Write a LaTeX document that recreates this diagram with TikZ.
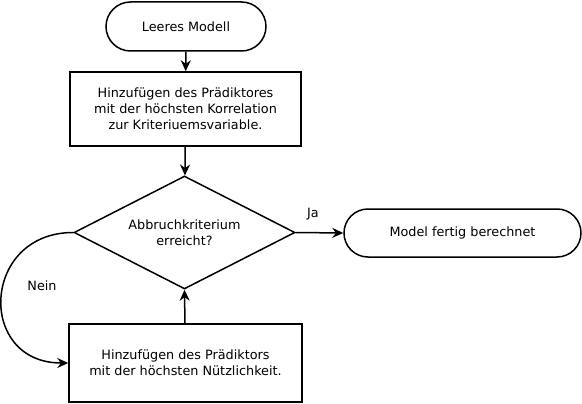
\documentclass[tikz,border=0pt]{standalone}
\usepackage{fontspec}
\setmainfont{DejaVu Sans}
\usetikzlibrary{shapes.geometric,shapes.misc,arrows.meta}
\begin{document}
\begin{tikzpicture}[x=1pt,y=-1pt,
  every node/.style={font=\fontsize{12.8}{16}\selectfont, align=center, inner sep=0pt},
  pill/.style={draw, line width=1.5pt, rounded rectangle},
  boxnode/.style={draw, line width=1.5pt, rectangle},
  decision/.style={draw, line width=1.5pt, diamond, aspect=1.96},
  conn/.style={line width=1.5pt, -{Stealth[length=11pt,width=10pt]}},
  lbl/.style={font=\fontsize{12.8}{14}\selectfont}
]
\useasboundingbox (0,0) rectangle (582,404);
\node[pill, minimum width=160, minimum height=49] (start) at (186,26.5) {Leeres Modell};
\node[boxnode, minimum width=231, minimum height=74] (b1) at (185.5,109) {Hinzufügen des Prädiktores\\mit der höchsten Korrelation\\zur Kriteriuemsvariable.};
\node[decision, minimum width=221, minimum height=113] (d) at (184.5,232.5) {Abbruchkriterium\\erreicht?};
\node[pill, minimum width=237, minimum height=48] (end) at (462.5,233) {Model fertig berechnet};
\node[boxnode, minimum width=233, minimum height=78] (b2) at (185.5,363) {Hinzufügen des Prädiktors\\mit der höchsten Nützlichkeit.};
\node[lbl] (ja) at (313,214) {Ja};
\node[lbl] (nein) at (42,286) {Nein};
\draw[conn] (start) -- (b1);
\draw[conn] (b1) -- (d);
\draw[conn] (d.east) -- (end.west);
\draw[conn] (b2) -- (d.south);
\draw[conn] (d.west) to[out=180,in=180,looseness=1.8] (b2.west);
\end{tikzpicture}
\end{document}
